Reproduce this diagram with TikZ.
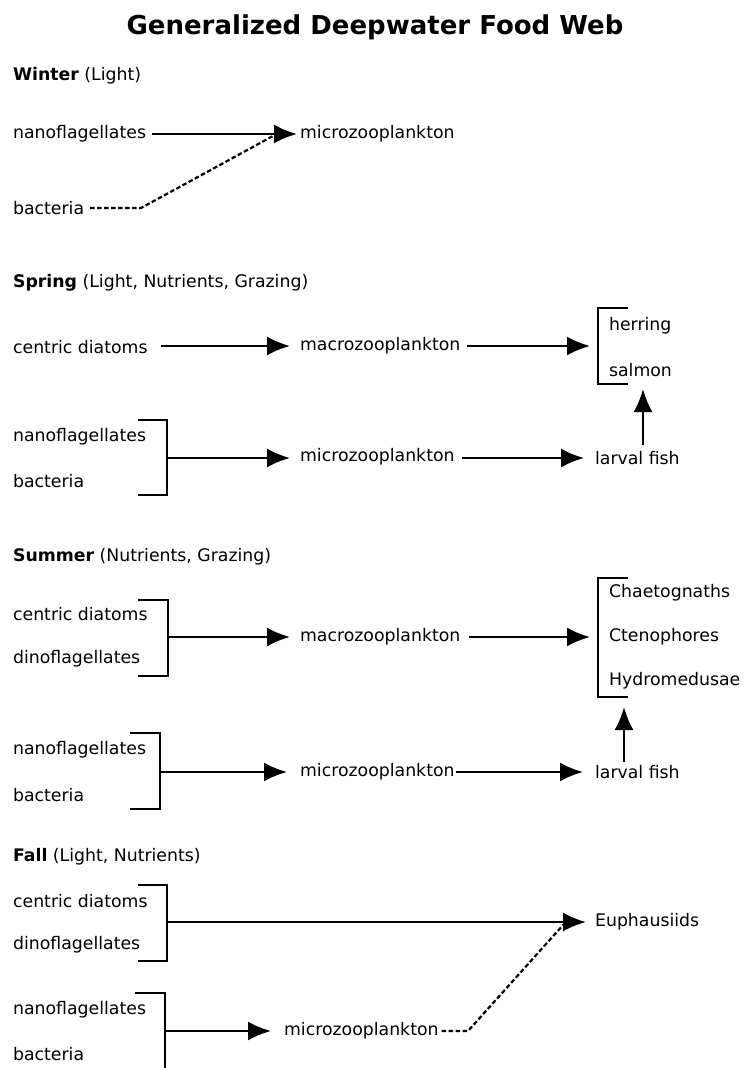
\documentclass[tikz,border=0pt]{standalone}
\usepackage{fontspec}
\setmainfont{DejaVu Sans}
\usetikzlibrary{arrows.meta}

\tikzset{every picture/.style={line width=2.2pt}}
\tikzset{
  lbl/.style={anchor=west, inner sep=0pt, font=\fontsize{17.3}{20}\selectfont},
  head/.style={anchor=west, inner sep=0pt, font=\fontsize{17.3}{20}\selectfont},
  arr/.style={-{Latex[length=23pt,width=19pt]}},
  dsh/.style={dash pattern={on 4.5pt off 2.5pt}},
}

\begin{document}
\begin{tikzpicture}[x=1pt,y=1pt,yscale=-1,xscale=1]
\path[use as bounding box] (0,0) rectangle (744,1068);

% Text Node
\draw (375,27) node [inner sep=0pt, font=\fontsize{26}{30}\selectfont\bfseries] (title) {Generalized Deepwater Food Web};

%%%%%%%%%% Winter
% Text Node
\draw (12,76) node [head] (hwin) {\textbf{Winter} (Light)};
% Text Node
\draw (12,134) node [lbl] (wnano) {nanoflagellates};
% Text Node
\draw (12,208) node [lbl] (wbac) {bacteria};
% Text Node
\draw (299,134) node [lbl] (wmicro) {microzooplankton};
%Straight Lines
\draw [arr] ([xshift=5pt]wnano.east) -- ([xshift=-2pt]wmicro.west) ;
%Straight Lines
\coordinate (wkink) at (141,208);
\draw [dsh] ([xshift=5pt]wbac.east) -- (wkink) -- ([xshift=-26pt,yshift=2pt]wmicro.west) ;

%%%%%%%%%% Spring
% Text Node
\draw (12,283) node [head] (hspr) {\textbf{Spring} (Light, Nutrients, Grazing)};
% Text Node
\draw (12,347) node [lbl] (scen) {centric diatoms};
% Text Node
\draw (299,346) node [lbl] (smacro) {macrozooplankton};
% Text Node
\draw (608,326) node [lbl] (sher) {herring};
% Text Node
\draw (608,370) node [lbl] (ssal) {salmon};
%Shape: Bracket
\draw (628,308) -- (598,308) -- (598,384) -- (628,384) ;
\coordinate (sfish) at (598,346);
%Straight Lines
\draw [arr] ([xshift=12pt]scen.east |- smacro.west) -- ([xshift=-9pt]smacro.west) ;
\draw [arr] ([xshift=6pt]smacro.east) -- ([xshift=-8pt]sfish) ;
% Text Node
\draw (12,437) node [lbl] (snano) {nanoflagellates};
% Text Node
\draw (12,481) node [lbl] (sbac) {bacteria};
%Shape: Bracket
\draw (138,420) -- (167,420) -- (167,495) -- (138,495) ;
\coordinate (sbr) at (167,458);
% Text Node
\draw (299,457) node [lbl] (smicro) {microzooplankton};
% Text Node
\draw (594,458) node [lbl] (slarv) {larval fish};
%Straight Lines
\draw [arr] (sbr) -- ([xshift=-9pt]smicro.west |- sbr) ;
\draw [arr] ([xshift=6pt]smicro.east |- sbr) -- ([xshift=-10pt]slarv.west |- sbr) ;
\draw [arr] (643,445) -- (643,389) ;

%%%%%%%%%% Summer
% Text Node
\draw (12,557) node [head] (hsum) {\textbf{Summer} (Nutrients, Grazing)};
% Text Node
\draw (12,614) node [lbl] (ucen) {centric diatoms};
% Text Node
\draw (12,659) node [lbl] (udino) {dinoflagellates};
%Shape: Bracket
\draw (138,600) -- (168,600) -- (168,676) -- (138,676) ;
\coordinate (ubr) at (168,637);
% Text Node
\draw (299,637) node [lbl] (umacro) {macrozooplankton};
% Text Node
\draw (608,593) node [lbl] (uchae) {Chaetognaths};
% Text Node
\draw (608,637) node [lbl] (ucten) {Ctenophores};
% Text Node
\draw (608,681) node [lbl] (uhydro) {Hydromedusae};
%Shape: Bracket
\draw (628,578) -- (598,578) -- (598,697) -- (628,697) ;
\coordinate (ugel) at (598,637);
%Straight Lines
\draw [arr] (ubr) -- ([xshift=-9pt]umacro.west |- ubr) ;
\draw [arr] ([xshift=8pt]umacro.east |- ubr) -- ([xshift=-8pt]ugel) ;
% Text Node
\draw (12,750) node [lbl] (unano) {nanoflagellates};
% Text Node
\draw (12,795) node [lbl] (ubac) {bacteria};
%Shape: Bracket
\draw (130,733) -- (160,733) -- (160,809) -- (130,809) ;
\coordinate (ubr2) at (160,772);
% Text Node
\draw (299,772) node [lbl] (umicro) {microzooplankton};
% Text Node
\draw (594,772) node [lbl] (ularv) {larval fish};
%Straight Lines
\draw [arr] (ubr2) -- ([xshift=-12pt]umicro.west |- ubr2) ;
\draw [arr] (umicro.east |- ubr2) -- ([xshift=-11pt]ularv.west |- ubr2) ;
\draw [arr] (624,762) -- (624,707) ;

%%%%%%%%%% Fall
% Text Node
\draw (12,857) node [head] (hfal) {\textbf{Fall} (Light, Nutrients)};
% Text Node
\draw (12,901) node [lbl] (fcen) {centric diatoms};
% Text Node
\draw (12,945) node [lbl] (fdino) {dinoflagellates};
%Shape: Bracket
\draw (138,885) -- (167,885) -- (167,961) -- (138,961) ;
\coordinate (fbr) at (167,922);
% Text Node
\draw (594,922) node [lbl] (feup) {Euphausiids};
%Straight Lines
\draw [arr] (fbr) -- ([xshift=-8pt]feup.west |- fbr) ;
% Text Node
\draw (12,1010) node [lbl] (fnano) {nanoflagellates};
% Text Node
\draw (12,1054) node [lbl] (fbac) {bacteria};
%Shape: Bracket
\draw (135,993) -- (165,993) -- (165,1075) ;
\coordinate (fbr2) at (165,1031);
% Text Node
\draw (283,1031) node [lbl] (fmicro) {microzooplankton};
%Straight Lines
\draw [arr] (fbr2) -- ([xshift=-12pt]fmicro.west |- fbr2) ;
\coordinate (fkink) at (468,1031);
\draw [dsh] ([xshift=2pt]fmicro.east |- fbr2) -- (fkink) -- ([xshift=-30pt,yshift=2pt]feup.west |- fbr) ;

\end{tikzpicture}
\end{document}
